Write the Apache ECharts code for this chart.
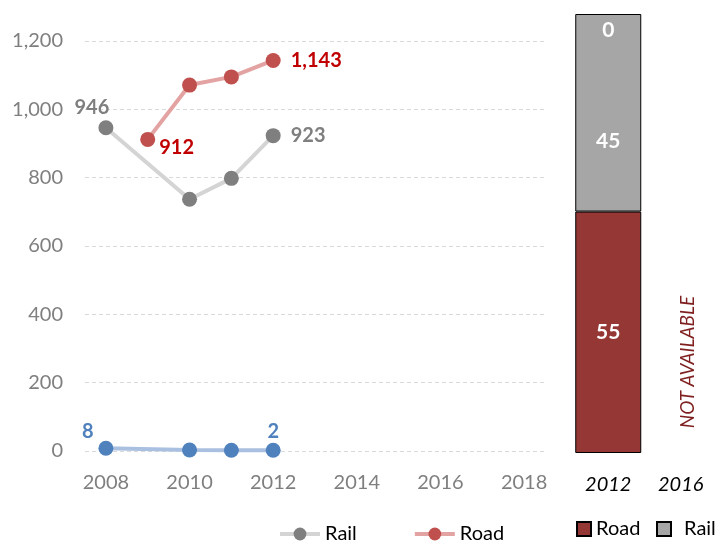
<!DOCTYPE html>
<html>
<head>
<meta charset="utf-8">
<script src="https://cdn.jsdelivr.net/npm/echarts@6/dist/echarts.min.js"></script>
<style>
html,body{margin:0;padding:0;background:#fff;}
#main{width:717px;height:541px;}
</style>
</head>
<body>
<div id="main"></div>
<script>
// line chart data
var years = ['2008','2009','2010','2011','2012','2013','2014','2015','2016','2017','2018'];
var railValues = [946, null, 737, 798, 923];
var roadValues = [null, 912, 1071, 1095, 1143];
var otherValues = [8, null, 3, 2, 2];
var yTicks = [0, 200, 400, 600, 800, 1000, 1200];

// share bar data (percent)
var shareYears = ['2012', '2016'];
var shareRoad = [55, null];
var shareRail = [45, null];
var shareOther = [0, null];

var FONT = 'Lato';
var fmt = function(v){ return echarts.format.addCommas(v); };

// which points get a label and where
function labelled(values, color, spots){
	return values.map(function(v, i){
		if(v == null) return null;
		var s = spots[i];
		if(!s) return v;
		return {value: v, label: Object.assign({show: true, color: color, fontFamily: FONT,
			fontSize: 20, fontWeight: 'bold', formatter: function(p){ return fmt(p.value); }}, s)};
	});
}

function shareLegend(name, left, pad){
	return {
		data: [name], left: left, top: 519, padding: 0, width: 120,
		icon: 'rect', itemWidth: 14, itemHeight: 14,
		formatter: function(n){ return n.trim(); },
		textStyle: {fontFamily: FONT, fontSize: 20, color: '#000', padding: [0, 0, 0, pad]}
	};
}

var chart = echarts.init(document.getElementById('main'));
var option = {
	animation: false,
	grid: [
		{left: 85, right: 172, top: 41, bottom: 90},
		{left: 572, right: -5, top: 14, bottom: 88}
	],
	legend: [
		{
			data: ['Rail', 'Road'],
			left: 273, top: 519,
			itemWidth: 40, itemHeight: 16, itemGap: 56,
			lineStyle: {width: 4},
			textStyle: {fontFamily: FONT, fontSize: 20, color: '#000'}
		},
		shareLegend('Road ', 576, 0),
		shareLegend('Rail ', 656, 8)
	],
	xAxis: [
		{
			type: 'category', gridIndex: 0, data: years, boundaryGap: true,
			axisLine: {show: false}, axisTick: {show: false},
			axisLabel: {interval: 1, margin: 22, color: '#7f7f7f', fontFamily: FONT, fontSize: 20}
		},
		{
			type: 'category', gridIndex: 1, data: shareYears,
			axisLine: {show: false}, axisTick: {show: false},
			axisLabel: {margin: 22, color: '#000', fontFamily: FONT, fontSize: 20, fontStyle: 'italic'}
		}
	],
	yAxis: [
		{
			type: 'value', gridIndex: 0, min: yTicks[0], max: yTicks[yTicks.length-1], interval: 200,
			axisLine: {show: false}, axisTick: {show: false},
			axisLabel: {margin: 22, color: '#7f7f7f', fontFamily: FONT, fontSize: 20, formatter: fmt},
			splitLine: {lineStyle: {color: '#d9d9d9', type: [4, 3], width: 1}}
		},
		{
			type: 'value', gridIndex: 1, min: 0, max: 100, show: false
		}
	],
	series: [
		{
			name: 'Rail', type: 'line', xAxisIndex: 0, yAxisIndex: 0,
			data: labelled(railValues, '#7f7f7f', {0: {position: 'top', offset: [-14, 2]}, 4: {position: 'right', distance: 10}}),
			connectNulls: true, symbol: 'circle', symbolSize: 15, z: 3,
			lineStyle: {color: '#d4d4d4', width: 4},
			itemStyle: {color: '#7f7f7f'}
		},
		{
			name: 'Road', type: 'line', xAxisIndex: 0, yAxisIndex: 0,
			data: labelled(roadValues, '#c00000', {1: {position: 'right', distance: 4, offset: [0, 8]}, 4: {position: 'right', distance: 10}}),
			connectNulls: true, symbol: 'circle', symbolSize: 15, z: 4,
			lineStyle: {color: '#e3a3a2', width: 4},
			itemStyle: {color: '#c0504d'}
		},
		{
			name: 'Other', type: 'line', xAxisIndex: 0, yAxisIndex: 0,
			data: labelled(otherValues, '#4f81bd', {0: {position: 'top', offset: [-18, 6]}, 4: {position: 'top', distance: 1}}),
			connectNulls: true, symbol: 'circle', symbolSize: 15, z: 5,
			lineStyle: {color: '#a9c0e0', width: 4},
			itemStyle: {color: '#4f81bd'}
		},
		{
			name: 'Road ', type: 'bar', xAxisIndex: 1, yAxisIndex: 1, stack: 'share',
			data: shareRoad, barWidth: 66,
			itemStyle: {color: '#953735', borderColor: '#000', borderWidth: 1},
			label: {show: true, color: '#fff', fontFamily: FONT, fontSize: 21, fontWeight: 'bold'}
		},
		{
			name: 'Rail ', type: 'bar', xAxisIndex: 1, yAxisIndex: 1, stack: 'share',
			data: shareRail, barWidth: 66,
			itemStyle: {color: '#a6a6a6', borderColor: '#000', borderWidth: 1},
			label: {show: true, offset: [0, 28], color: '#fff', fontFamily: FONT, fontSize: 21, fontWeight: 'bold'}
		},
		{
			name: 'Other ', type: 'bar', xAxisIndex: 1, yAxisIndex: 1, stack: 'share',
			data: shareOther, barWidth: 66,
			itemStyle: {color: '#a6a6a6', borderWidth: 0},
			label: {show: true, position: 'bottom', distance: 6, color: '#fff', fontFamily: FONT, fontSize: 21, fontWeight: 'bold'}
		}
	],
	graphic: [
		{
			type: 'text', x: 688, y: 362, rotation: Math.PI / 2,
			style: {text: 'NOT AVAILABLE', fill: '#7f1f1f', font: 'italic 19px Lato', align: 'center', verticalAlign: 'middle'}
		}
	]
};
chart.setOption(option);
</script>
</body>
</html>
